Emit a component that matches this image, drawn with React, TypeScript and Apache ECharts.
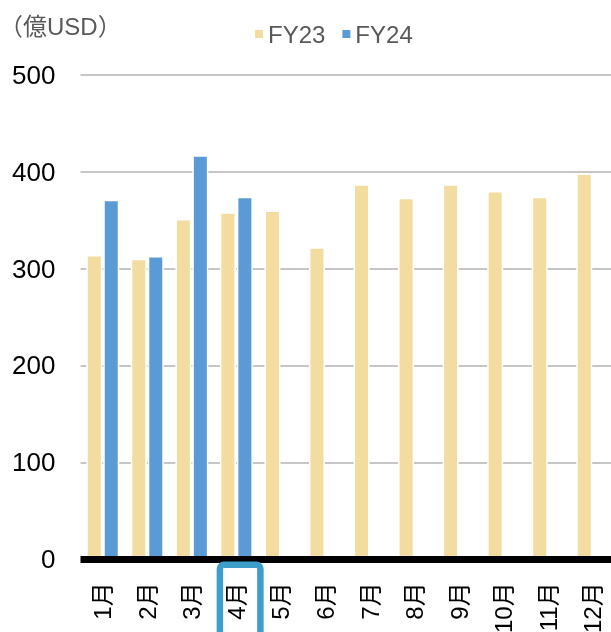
import React, { useEffect, useRef } from "react";
import * as echarts from "echarts";

const categories = ["1月", "2月", "3月", "4月", "5月", "6月", "7月", "8月", "9月", "10月", "11月", "12月"];
const fy23 = [314, 310, 351, 358, 360, 322, 387, 373, 387, 380, 374, 398];
const fy24: (number | null)[] = [371, 313, 417, 374, null, null, null, null, null, null, null, null];
const yTicks = [0, 100, 200, 300, 400, 500];
const highlightCategory = "4月";

const FONT = "'Liberation Sans', 'Noto Sans CJK JP', sans-serif";

export default function App() {
  const ref = useRef<HTMLDivElement>(null);
  useEffect(() => {
    if (!ref.current) return;
    const chart = echarts.init(ref.current, undefined, { renderer: "svg" });
    chart.setOption({
      animation: false,
      textStyle: { fontFamily: FONT },
      title: {
        text: "（億USD）",
        left: -1,
        top: 14,
        padding: 0,
        textStyle: { fontSize: 24, fontWeight: "normal", color: "#595959", fontFamily: FONT },
      },
      legend: {
        data: ["FY23", "FY24"],
        left: 253,
        top: 22,
        padding: 0,
        itemWidth: 10,
        itemHeight: 10,
        itemGap: 15,
        icon: "rect",
        textStyle: { fontSize: 24, color: "#595959", fontFamily: FONT, padding: [0, 0, 0, -1] },
      },
      grid: {
        left: 80.5,
        right: -4,
        top: 74.7,
        bottom: 72.7,
        containLabel: false,
        outerBoundsMode: "none",
      },
      xAxis: {
        type: "category",
        data: categories,
        z: 5,
        axisLine: { show: true, lineStyle: { color: "#000", width: 7, cap: "butt" } },
        axisTick: { show: false },
        axisLabel: {
          rotate: 90,
          margin: 23,
          fontSize: 24,
          color: "#000",
          fontFamily: FONT,
          padding: [7, 0, 0, 0],
        },
      },
      yAxis: {
        type: "value",
        min: yTicks[0],
        max: yTicks[yTicks.length - 1],
        interval: 100,
        axisLine: { show: false },
        axisTick: { show: false },
        axisLabel: { fontSize: 26, color: "#000", margin: 25, fontFamily: FONT },
        splitLine: { lineStyle: { color: "#c6c6c6", width: 2 } },
      },
      series: [
        {
          name: "FY23",
          type: "bar",
          data: fy23,
          barWidth: 16,
          barGap: "6%",
          itemStyle: { color: "#f2dc9f", borderColor: "#ffffff", borderWidth: 1.5 },
        },
        {
          name: "FY24",
          type: "bar",
          data: fy24,
          barWidth: 16,
          itemStyle: { color: "#5b9bd5", borderColor: "#ffffff", borderWidth: 1.5 },
        },
      ],
    });
    const cx = chart.convertToPixel({ xAxisIndex: 0 }, highlightCategory) as number;
    const y0 = chart.convertToPixel({ yAxisIndex: 0 }, 0) as number;
    chart.setOption({
      graphic: [
        {
          type: "rect",
          shape: { x: cx - 16.5, y: y0 + 5.5, width: 40.5, height: 100, r: 4 },
          style: { fill: "none", stroke: "#3d9fc9", lineWidth: 6.5 },
          z: 10,
        },
      ],
    });
    return () => chart.dispose();
  }, []);
  return <div ref={ref} style={{ position: "fixed", left: 0, top: 0, width: 611, height: 632 }} />;
}
